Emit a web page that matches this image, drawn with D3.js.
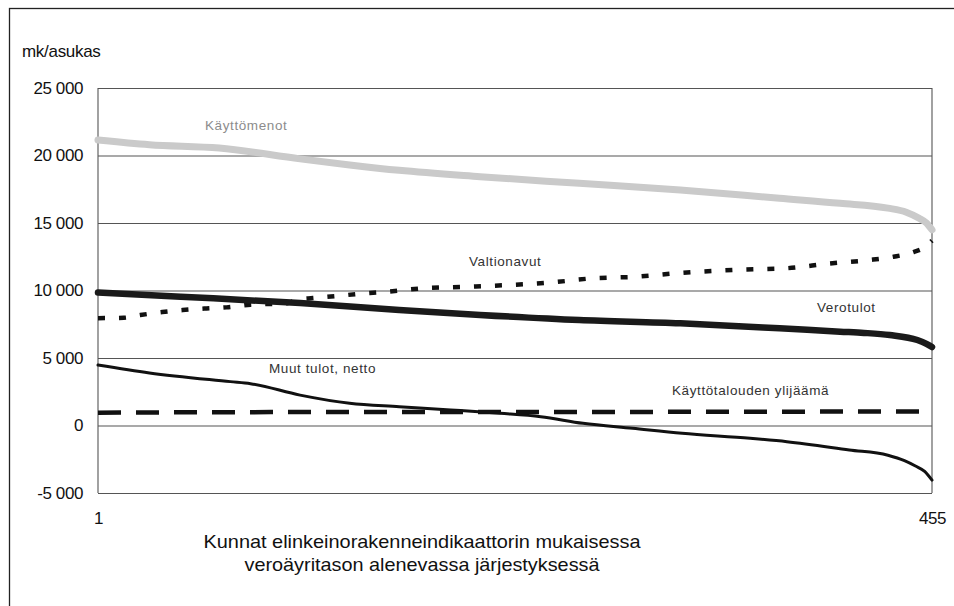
<!DOCTYPE html>
<html>
<head>
<meta charset="utf-8">
<script src="https://cdn.jsdelivr.net/npm/d3@7/dist/d3.min.js"></script>
<style>
  html, body { margin: 0; padding: 0; background: #fff; }
  svg { display: block; font-family: "Liberation Sans", Arial, sans-serif; }
</style>
</head>
<body>
<svg id="chart" width="954" height="606"></svg>
<script>
// ---- Data ----
const yTicks = [-5000, 0, 5000, 10000, 15000, 20000, 25000];
const xTicks = [1, 455];
const yUnit = "mk/asukas";
const xTitle = ["Kunnat elinkeinorakenneindikaattorin mukaisessa", "veroäyritason alenevassa järjestyksessä"];

// [kunta rank, mk/asukas]
const kayttomenot = [[1,21150],[29,20800],[67,20550],[111,19750],[138,19300],[165,18900],[209,18430],[263,17940],[318,17440],[372,16830],[405,16460],[431,16100],[441,15800],[448,15350],[452,15000],[455,14500]];
const valtionavut = [[1,7950],[15,7980],[24,8180],[36,8400],[47,8550],[60,8670],[71,8750],[84,8950],[104,9050],[110,9350],[118,9440],[131,9590],[142,9740],[155,9870],[178,10160],[202,10280],[224,10400],[248,10600],[270,10900],[294,11020],[318,11300],[352,11550],[376,11650],[399,12000],[421,12260],[434,12500],[445,12850],[451,13200],[455,13700]];
const verotulot = [[1,9850],[46,9540],[111,9070],[165,8560],[209,8190],[263,7810],[318,7570],[372,7200],[405,6950],[418,6860],[432,6700],[447,6330],[452,6050],[455,5810]];
const muutTulot = [[1,4480],[29,3890],[73,3250],[84,3100],[111,2250],[138,1640],[165,1390],[193,1150],[220,900],[242,650],[265,160],[292,-210],[319,-580],[356,-950],[376,-1200],[410,-1810],[431,-2200],[440,-2600],[446,-3000],[451,-3400],[455,-4050]];
const ylijaama = [[1,950],[60,980],[150,1000],[250,1000],[350,1020],[455,1040]];

const seriesLabels = [
  {text: "Käyttömenot", x: 205, y: 130, color: "#8c8c8c"},
  {text: "Valtionavut", x: 469, y: 266, color: "#333"},
  {text: "Verotulot", x: 817, y: 312, color: "#333"},
  {text: "Muut tulot, netto", x: 269, y: 373, color: "#333"},
  {text: "Käyttötalouden ylijäämä", x: 672, y: 395, color: "#333"}
];

// ---- Layout ----
const svg = d3.select("#chart");
const L = 98, R = 932, T = 88, B = 493;

const x = d3.scaleLinear().domain([1, 455]).range([L, R]);
const y = d3.scaleLinear().domain([-5000, 25000]).range([B, T]);

const locale = d3.formatLocale({decimal: ",", thousands: " ", grouping: [3], currency: ["", ""], minus: "-"});
const fmt = locale.format(",");

// outer frame
svg.append("rect").attr("x", 9.5).attr("y", 8.5).attr("width", 980).attr("height", 700)
  .attr("fill", "none").attr("stroke", "#222").attr("stroke-width", 1.3);

// gridlines
const grid = svg.append("g").attr("transform", `translate(${L},0)`)
  .call(d3.axisRight(y).tickValues(yTicks).tickSize(R - L).tickFormat(""));
grid.select(".domain").remove();
grid.selectAll(".tick line").attr("stroke", "#555").attr("stroke-width", 1.1);

// plot frame (left, right)
svg.append("line").attr("x1", L).attr("x2", L).attr("y1", T).attr("y2", B).attr("stroke", "#555").attr("stroke-width", 1.1);
svg.append("line").attr("x1", R).attr("x2", R).attr("y1", T).attr("y2", B).attr("stroke", "#555").attr("stroke-width", 1.1);

// y axis labels
const yAxis = svg.append("g").attr("transform", `translate(${L},0)`)
  .call(d3.axisLeft(y).tickValues(yTicks).tickSize(0).tickPadding(15).tickFormat(fmt));
yAxis.select(".domain").remove();
yAxis.selectAll("text").attr("font-size", 17).attr("fill", "#111").attr("letter-spacing", -0.4)
  .attr("font-family", "'Liberation Sans', Arial, sans-serif");

// x axis labels
const xAxis = svg.append("g").attr("transform", `translate(0,${B})`)
  .call(d3.axisBottom(x).tickValues(xTicks).tickSize(0).tickPadding(19).tickFormat(d3.format("d")));
xAxis.select(".domain").remove();
xAxis.selectAll("text").attr("font-size", 17).attr("fill", "#111").attr("letter-spacing", -0.4)
  .attr("font-family", "'Liberation Sans', Arial, sans-serif");

// unit label
svg.append("text").attr("x", 22).attr("y", 57).attr("font-size", 17).attr("fill", "#111")
  .attr("letter-spacing", -0.3).text(yUnit);

// x title
const titleWidths = [437, 355];
xTitle.forEach((t, i) => {
  svg.append("text").attr("x", 422).attr("y", 548 + i * 23).attr("text-anchor", "middle")
    .attr("font-size", 18.5).attr("fill", "#111")
    .attr("textLength", titleWidths[i]).attr("lengthAdjust", "spacingAndGlyphs")
    .text(t);
});

// lines
const line = d3.line().x(d => x(d[0])).y(d => y(d[1])).curve(d3.curveMonotoneX);

svg.append("path").datum(kayttomenot).attr("d", line)
  .attr("fill", "none").attr("stroke", "#cacaca").attr("stroke-width", 7).attr("stroke-linecap", "round");

svg.append("path").datum(valtionavut).attr("d", line)
  .attr("fill", "none").attr("stroke", "#111").attr("stroke-width", 4.5).attr("stroke-dasharray", "7,14");

svg.append("path").datum(verotulot).attr("d", line)
  .attr("fill", "none").attr("stroke", "#1a1a1a").attr("stroke-width", 6.5).attr("stroke-linecap", "round");

svg.append("path").datum(muutTulot).attr("d", line)
  .attr("fill", "none").attr("stroke", "#111").attr("stroke-width", 3).attr("stroke-linecap", "round");

svg.append("path").datum(ylijaama).attr("d", line)
  .attr("fill", "none").attr("stroke", "#111").attr("stroke-width", 4.5).attr("stroke-dasharray", "23,15");

// series labels
seriesLabels.forEach(s => {
  svg.append("text").attr("x", s.x).attr("y", s.y).attr("font-size", 13.5)
    .attr("letter-spacing", 0.6).attr("fill", s.color).text(s.text);
});
</script>
</body>
</html>
